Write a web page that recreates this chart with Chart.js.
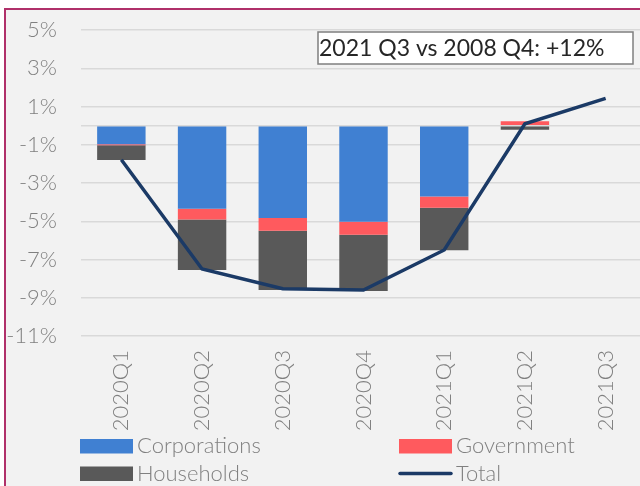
<!DOCTYPE html>
<html>
<head>
<meta charset="utf-8">
<script src="https://cdn.jsdelivr.net/npm/chart.js@4/dist/chart.umd.min.js"></script>
<style>
  html, body { margin: 0; padding: 0; background: #ffffff; overflow: hidden; width: 640px; height: 486px; }
  #frame { position: absolute; left: 4px; top: 8px; width: 700px; height: 600px; border: 2px solid #b0306a; background: #f2f2f2; box-sizing: border-box; }
  #c { position: absolute; left: 0; top: 0; }
</style>
</head>
<body>
<div id="frame"></div>
<canvas id="c" width="700" height="486"></canvas>
<script>
// quarters on the x axis
const quarters = ['2020Q1', '2020Q2', '2020Q3', '2020Q4', '2021Q1', '2021Q2', '2021Q3'];
// contributions, percentage points
const corporations = [-0.97, -4.34, -4.83, -5.03, -3.70, 0.0, null];
const government = [-0.05, -0.57, -0.67, -0.68, -0.59, 0.23, null];
const households = [-0.78, -2.64, -3.09, -2.94, -2.22, -0.22, null];
const total = [-1.78, -7.5, -8.53, -8.6, -6.5, 0.1, 1.43];
// y axis ticks
const yMin = -11, yMax = 5, yStep = 2;
const note = '2021 Q3 vs 2008 Q4: +12%';

const font = 'Lato';
const gray = '#808080';

// zero line goes over the bars but under the total line
const zeroLine = {
    id: 'zeroLine',
    beforeDatasetDraw(chart, args) {
        if (chart.data.datasets[args.index].type !== 'line') return;
        const y = chart.scales.y.getPixelForValue(0);
        const ctx = chart.ctx;
        ctx.save();
        ctx.strokeStyle = '#d9d9d9';
        ctx.lineWidth = 1.5;
        ctx.beginPath();
        ctx.moveTo(chart.chartArea.left, y);
        ctx.lineTo(chart.chartArea.right, y);
        ctx.stroke();
        ctx.restore();
    }
};

// text box and two-column legend
const extras = {
    id: 'extras',
    afterDraw(chart) {
        const ctx = chart.ctx;
        ctx.save();
        ctx.fillStyle = '#ffffff';
        ctx.fillRect(318, 32, 315, 32);
        ctx.strokeStyle = '#7f7f7f';
        ctx.lineWidth = 1.5;
        ctx.strokeRect(318, 32, 315, 32);
        ctx.fillStyle = '#262626';
        ctx.font = '23px ' + font;
        ctx.textBaseline = 'middle';
        ctx.fillText(note, 319, 48.5);

        const items = [
            { label: 'Corporations', color: '#4080d2', x: 80, y: 446 },
            { label: 'Government', color: '#ff5a5e', x: 399, y: 446 },
            { label: 'Households', color: '#595959', x: 80, y: 473.5 },
            { label: 'Total', color: '#1b3a66', x: 399, y: 473.5, line: true }
        ];
        ctx.font = '300 22px ' + font;
        items.forEach(it => {
            if (it.line) {
                ctx.strokeStyle = it.color;
                ctx.lineWidth = 3.5;
                ctx.lineCap = 'round';
                ctx.beginPath();
                ctx.moveTo(it.x + 1, it.y);
                ctx.lineTo(it.x + 52, it.y);
                ctx.stroke();
            } else {
                ctx.fillStyle = it.color;
                ctx.fillRect(it.x, it.y - 7, 53, 14.5);
            }
            ctx.fillStyle = gray;
            ctx.fillText(it.label, it.x + 57, it.y);
        });
        ctx.restore();
    }
};

new Chart(document.getElementById('c'), {
    data: {
        labels: quarters,
        datasets: [
            { type: 'line', label: 'Total', data: total, borderColor: '#1b3a66', borderWidth: 3.5,
              pointRadius: 0, tension: 0, stack: 'line', order: 0 },
            { type: 'bar', label: 'Corporations', data: corporations, backgroundColor: '#4080d2', stack: 'bars', order: 1 },
            { type: 'bar', label: 'Government', data: government, backgroundColor: '#ff5a5e', stack: 'bars', order: 1 },
            { type: 'bar', label: 'Households', data: households, backgroundColor: '#595959', stack: 'bars', order: 1 }
        ]
    },
    options: {
        responsive: false,
        animation: false,
        devicePixelRatio: 1,
        layout: { padding: { top: 0, right: 54, bottom: 0, left: 0 } },
        datasets: { bar: { barPercentage: 0.6, categoryPercentage: 1 } },
        plugins: { legend: { display: false }, tooltip: { enabled: false } },
        scales: {
            x: {
                stacked: true,
                grid: { display: false, drawTicks: false },
                border: { display: false },
                ticks: { minRotation: 90, maxRotation: 90, padding: 14, color: gray, font: { family: font, size: 22, weight: 300 } },
                afterFit(scale) { scale.height = 150; }
            },
            y: {
                stacked: true,
                min: yMin, max: yMax,
                grid: { color: '#d9d9d9', lineWidth: 1.5, drawTicks: false },
                border: { display: false },
                // small lineHeight keeps the tick padding from pushing the plot down
                ticks: { stepSize: yStep, padding: 24, color: gray, font: { family: font, size: 22, weight: 300, lineHeight: 0.55 },
                         callback: v => v + '%' },
                afterFit(scale) { scale.width = 81; }
            }
        }
    },
    plugins: [zeroLine, extras]
});
</script>
</body>
</html>
